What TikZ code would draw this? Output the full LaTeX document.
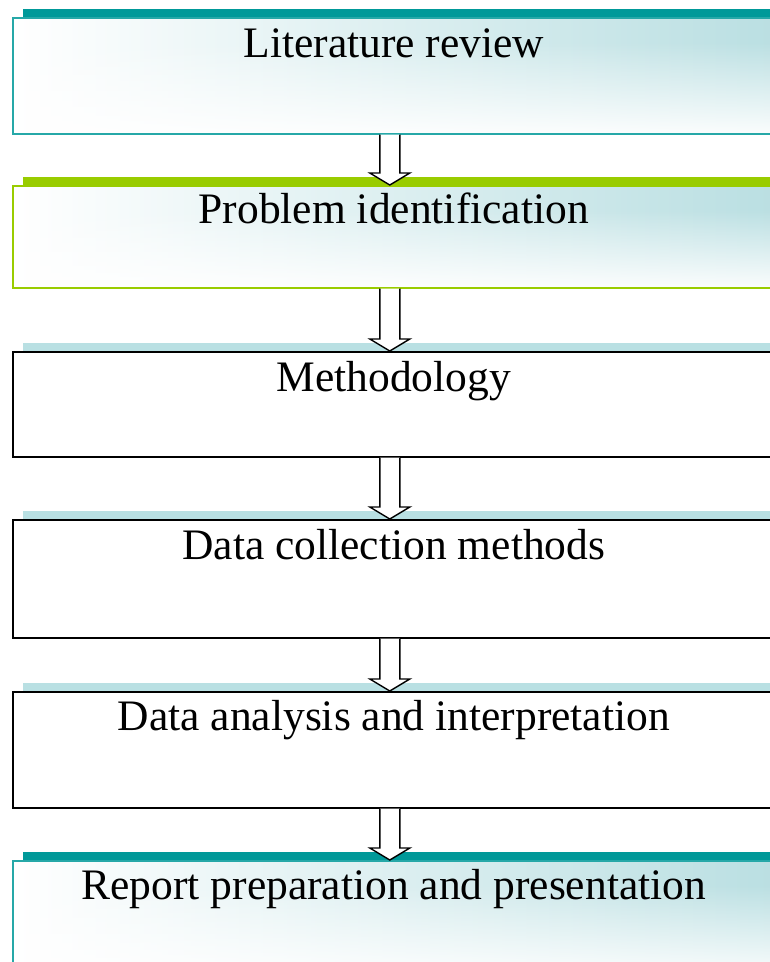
\documentclass[tikz,border=0pt]{standalone}
\usepackage{fontspec}
\setmainfont{Liberation Serif}
\usetikzlibrary{calc,fadings}
\definecolor{tealbar}{RGB}{0,153,153}
\definecolor{greenbar}{RGB}{153,204,0}
\definecolor{lightbar}{RGB}{185,224,227}
\definecolor{gradc}{RGB}{186,223,226}
\pgfdeclarelayer{background}
\pgfdeclarelayer{bars}
\pgfsetlayers{background,bars,main}
\tikzset{
  stepbox/.style={draw, rectangle, inner sep=0pt, anchor=north west, line width=1.6pt, minimum width=762pt},
  tealbox/.style={stepbox, draw=tealbar!85!white},
  greenbox/.style={stepbox, draw=greenbar},
  plainbox/.style={stepbox, draw=black, fill=white},
  lbl/.style={anchor=base, font=\fontsize{43.5}{50}\selectfont, inner sep=0pt},
  flowarrow/.style={draw=black, fill=white, line width=1.4pt, line join=miter},
}
\newcommand\gradbox[1]{%
  \begin{pgfonlayer}{background}
    \shade[left color=white, right color=gradc] (#1.south west) rectangle (#1.north east);
    \fill[white, path fading=north, fill opacity=0.95] (#1.south west) rectangle ($(#1.north east)+(0,-25)$);
  \end{pgfonlayer}}
\newcommand\topbar[2]{%
  \begin{pgfonlayer}{bars}
    \fill[#2] ($(#1.north west)+(11,0)$) rectangle ($(#1.north east)+(11,8)$);
  \end{pgfonlayer}}
\newcommand\stepflow[2]{%
  \draw[flowarrow] let \p1=($(#1.south)+(-4pt,0)$), \p2=(#2.north) in
    (\x1-10pt,\y1) -- (\x1-10pt,\y2+12pt) -- (\x1-20pt,\y2+12pt) -- (\x1,\y2)
    -- (\x1+20pt,\y2+12pt) -- (\x1+10pt,\y2+12pt) -- (\x1+10pt,\y1);}
\begin{document}
\begin{tikzpicture}[x=1pt,y=1pt]
\useasboundingbox (0,0) rectangle (770,-962);
\clip (0,0) rectangle (770,-962);

\node[tealbox, minimum height=116pt] (b1) at (12,-17) {};
\node[greenbox, minimum height=102pt] (b2) at (12,-185) {};
\node[plainbox, minimum height=105pt] (b3) at (12,-351) {};
\node[plainbox, minimum height=118pt] (b4) at (12,-519) {};
\node[plainbox, minimum height=116pt] (b5) at (12,-691) {};
\node[tealbox, minimum height=115pt] (b6) at (12,-860) {};

\gradbox{b1}\gradbox{b2}\gradbox{b6}
\topbar{b1}{tealbar}
\topbar{b2}{greenbar}
\topbar{b3}{lightbar}
\topbar{b4}{lightbar}
\topbar{b5}{lightbar}
\topbar{b6}{tealbar}

\node[lbl] (t1) at ($(b1.north)+(0,-40)$) {Literature review};
\node[lbl] (t2) at ($(b2.north)+(0,-38)$) {Problem identification};
\node[lbl] (t3) at ($(b3.north)+(0,-40)$) {Methodology};
\node[lbl] (t4) at ($(b4.north)+(0,-40)$) {Data collection methods};
\node[lbl] (t5) at ($(b5.north)+(0,-39)$) {Data analysis and interpretation};
\node[lbl] (t6) at ($(b6.north)+(0,-39)$) {Report preparation and presentation};

\stepflow{b1}{b2}
\stepflow{b2}{b3}
\stepflow{b3}{b4}
\stepflow{b4}{b5}
\stepflow{b5}{b6}
\end{tikzpicture}
\end{document}
